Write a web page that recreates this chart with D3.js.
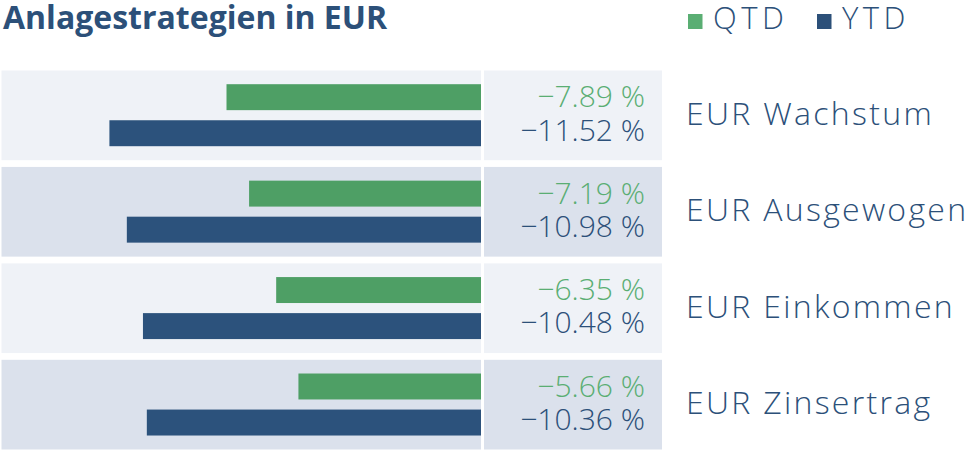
<!DOCTYPE html>
<html>
<head>
<meta charset="utf-8">
<script src="https://cdn.jsdelivr.net/npm/d3@7"></script>
<style>
  html, body { margin: 0; padding: 0; background: #ffffff; }
  svg { display: block; }
</style>
</head>
<body>
<svg id="chart" width="967" height="459"></svg>
<script>
// ---- data ----
const categories = ["EUR Wachstum", "EUR Ausgewogen", "EUR Einkommen", "EUR Zinsertrag"];
const seriesNames = ["QTD", "YTD"];
const qtdValues = [-7.89, -7.19, -6.35, -5.66];
const ytdValues = [-11.52, -10.98, -10.48, -10.36];
const titleText = "Anlagestrategien in EUR";

// ---- styles ----
const barColors = { QTD: "#4e9f65", YTD: "#2c527c" };
const textColors = { QTD: "#5aae73", YTD: "#2c5079" };
const rowFills = ["#eff2f7", "#dbe1ec"];
const font = "'Open Sans', 'Noto Sans', sans-serif";

const svg = d3.select("#chart");

const rows = categories.map((c, i) => ({
  cat: c, i,
  vals: [{ key: "QTD", v: qtdValues[i] }, { key: "YTD", v: ytdValues[i] }]
}));

// scales
const y = d3.scaleBand().domain(categories).range([70.5, 449.5]).paddingInner(0.07).paddingOuter(0);
const ySub = d3.scaleBand().domain(seriesNames).range([13.7, 75.7]).paddingInner(0.28);
const x = d3.scaleLinear().domain([-14.85, 0]).range([2, 481]);
const valBaseline = { QTD: 36.8, YTD: 70 };
const fmt = v => (v < 0 ? "\u2212" : "") + Math.abs(v).toFixed(2) + " %";

// title
svg.append("text")
  .attr("x", 3).attr("y", 28.5)
  .attr("font-family", font).attr("font-weight", 700).attr("font-size", 32)
  .attr("fill", "#2c5079")
  .text(titleText);

// legend
const legendX = { QTD: 688, YTD: 817 };
const lg = svg.selectAll(".lg").data(seriesNames).enter().append("g").attr("class", "lg")
  .attr("transform", d => `translate(${legendX[d]},0)`);
lg.append("rect").attr("x", 0).attr("y", 14).attr("width", 14.5).attr("height", 15)
  .attr("fill", d => textColors[d]);
lg.append("text").attr("x", 25).attr("y", 28.5)
  .attr("font-family", font).attr("font-weight", 300).attr("font-size", 31)
  .attr("fill", "#2c5079").attr("letter-spacing", 4.5)
  .text(d => d);

// rows
const g = svg.selectAll(".row").data(rows).enter().append("g").attr("class", "row")
  .attr("transform", d => `translate(0,${y(d.cat)})`);

g.append("rect").attr("x", 1.5).attr("y", 0).attr("width", x(0) - 1.5).attr("height", y.bandwidth())
  .attr("fill", d => rowFills[d.i % 2]);
g.append("rect").attr("x", 484).attr("y", 0).attr("width", 178).attr("height", y.bandwidth())
  .attr("fill", d => rowFills[d.i % 2]);

g.selectAll(".bar").data(d => d.vals).enter().append("rect").attr("class", "bar")
  .attr("x", d => x(d.v)).attr("width", d => x(0) - x(d.v))
  .attr("y", d => ySub(d.key)).attr("height", ySub.bandwidth())
  .attr("fill", d => barColors[d.key]);

g.selectAll(".val").data(d => d.vals).enter().append("text").attr("class", "val")
  .attr("x", 645).attr("y", d => valBaseline[d.key])
  .attr("text-anchor", "end")
  .attr("font-family", font).attr("font-weight", 300).attr("font-size", 30)
  .attr("fill", d => textColors[d.key])
  .text(d => fmt(d.v));

g.append("text").attr("x", 686).attr("y", y.bandwidth() / 2 + 9.5)
  .attr("font-family", font).attr("font-weight", 300).attr("font-size", 32)
  .attr("letter-spacing", 2.3)
  .attr("fill", "#2c5079")
  .text(d => d.cat);
</script>
</body>
</html>
